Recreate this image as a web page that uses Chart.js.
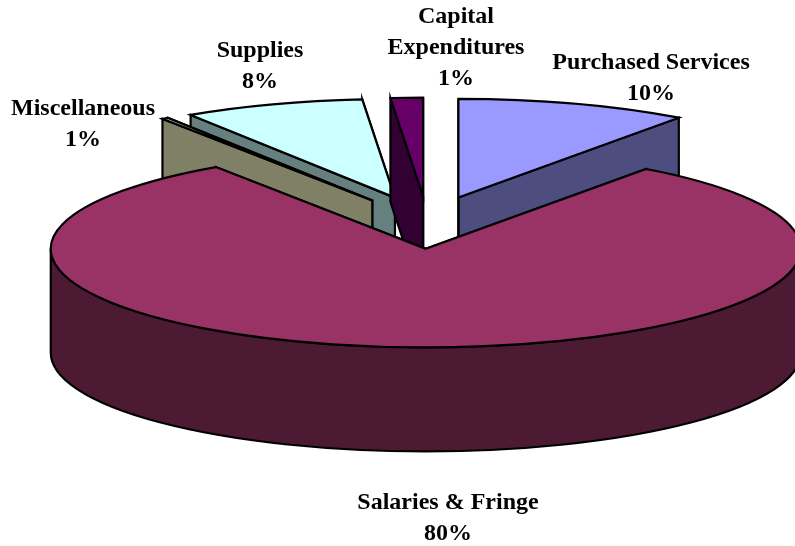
<!DOCTYPE html>
<html>
<head>
<meta charset="utf-8">
<style>html,body{margin:0;padding:0;background:#fff}canvas{display:block}</style>
<script src="https://cdn.jsdelivr.net/npm/chart.js@4/dist/chart.umd.min.js"></script>
</head>
<body>
<canvas id="c" width="795" height="546"></canvas>
<script>
const categories = [["Purchased Services"], ["Salaries & Fringe"], ["Miscellaneous"], ["Supplies"], ["Capital", "Expenditures"]];
const shares = [10.0, 80.55, 0.28, 7.78, 1.39];
const percentLabels = ["10%", "80%", "1%", "8%", "1%"];
const topColors = ["#9999ff", "#993366", "#ffffcc", "#ccffff", "#660066"];
const wallColors = ["#4d4d80", "#4d1a33", "#808066", "#668080", "#330033"];
const paintOrder = [0, 3, 2, 4, 1];
const labelX = [651, 448, 83, 260, 456];
const labelY = [62.5, 502.5, 108.5, 50.5, 16.5];

const RADIUS = 375, TILT = 0.263, DEPTH = 104, EXPLODE = 100, LINE = 31.3;

const pie3d = {
  id: 'pie3d',
  beforeDatasetsDraw(chart) {
    const ctx = chart.ctx;
    const arcs = chart.getDatasetMeta(0).data;
    ctx.save();
    ctx.strokeStyle = '#000';
    ctx.lineWidth = 2.2;
    ctx.lineJoin = 'miter';
    paintOrder.forEach(i => {
      const a = arcs[i];
      const s = a.startAngle, e = a.endAngle, r = a.outerRadius, ry = r * TILT;
      const mid = (s + e) / 2;
      const cx = a.x + Math.cos(mid) * EXPLODE;
      const cy = a.y + Math.sin(mid) * EXPLODE * TILT;
      const px = t => cx + Math.cos(t) * r;
      const py = t => cy + Math.sin(t) * ry;
      const paint = c => { ctx.fillStyle = c; ctx.fill(); ctx.stroke(); };
      [e, s].forEach(t => {
        ctx.beginPath();
        ctx.moveTo(cx, cy);
        ctx.lineTo(px(t), py(t));
        ctx.lineTo(px(t), py(t) + DEPTH);
        ctx.lineTo(cx, cy + DEPTH);
        ctx.closePath();
        paint(wallColors[i]);
      });
      const lo = Math.max(s, 0), hi = Math.min(e, Math.PI);
      if (hi > lo) {
        ctx.beginPath();
        ctx.ellipse(cx, cy, r, ry, 0, lo, hi);
        ctx.ellipse(cx, cy + DEPTH, r, ry, 0, hi, lo, true);
        ctx.closePath();
        paint(wallColors[i]);
      }
      ctx.beginPath();
      ctx.moveTo(cx, cy);
      ctx.ellipse(cx, cy, r, ry, 0, s, e);
      ctx.closePath();
      paint(topColors[i]);
    });
    ctx.restore();
    return false;
  },
  afterDraw(chart) {
    const ctx = chart.ctx;
    ctx.save();
    ctx.font = 'bold 24px "Liberation Serif"';
    ctx.fillStyle = '#000';
    ctx.textAlign = 'center';
    ctx.textBaseline = 'middle';
    categories.forEach((lines, i) => {
      [...lines, percentLabels[i]].forEach((t, k) => {
        ctx.fillText(t, labelX[i], labelY[i] + k * LINE);
      });
    });
    ctx.restore();
  }
};

new Chart(document.getElementById('c'), {
  type: 'pie',
  data: {
    labels: categories,
    datasets: [{ data: shares, backgroundColor: topColors, borderWidth: 0, radius: RADIUS }]
  },
  options: {
    responsive: false,
    animation: false,
    devicePixelRatio: 1,
    rotation: 0,
    layout: { padding: { left: 60, bottom: 101 } },
    plugins: { legend: { display: false }, tooltip: { enabled: false }, title: { display: false } }
  },
  plugins: [pie3d]
});
</script>
</body>
</html>
